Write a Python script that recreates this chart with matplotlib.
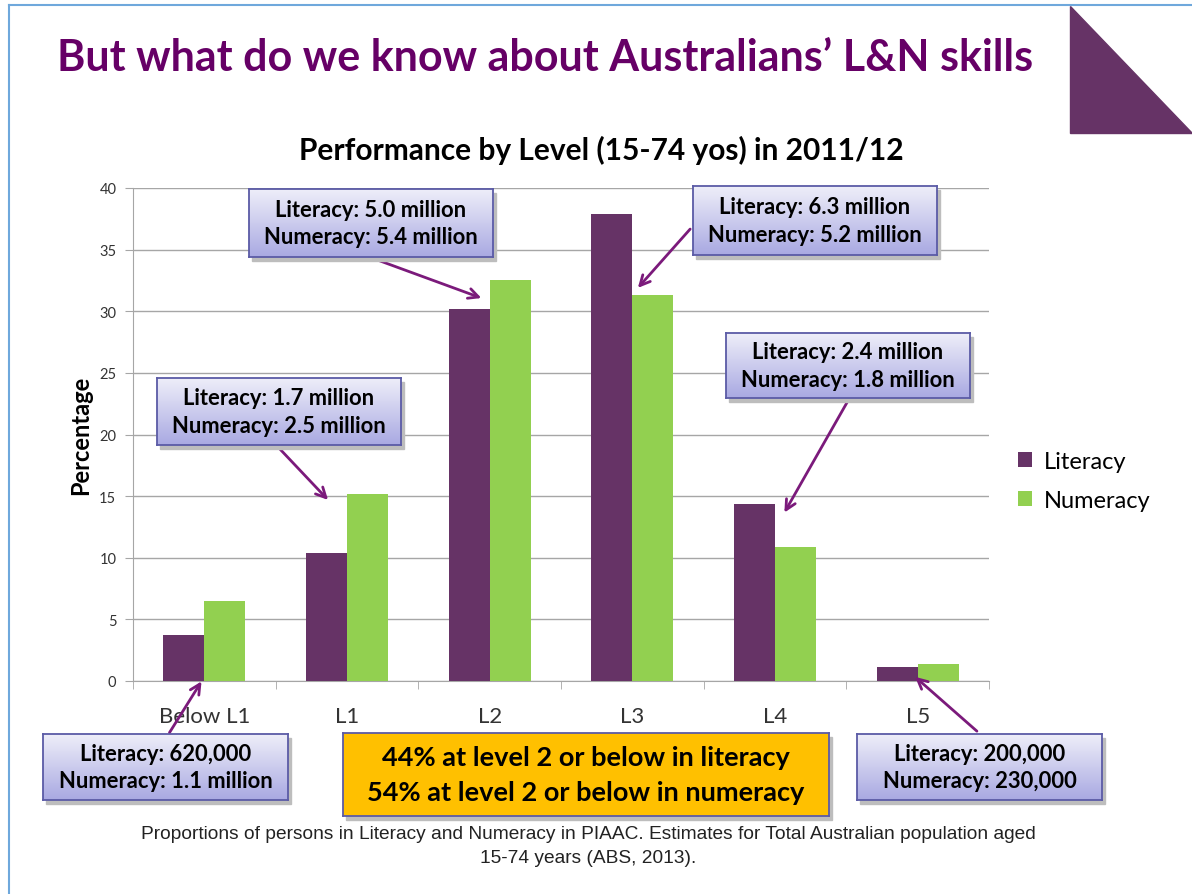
import numpy as np
import matplotlib
matplotlib.use('Agg')
import matplotlib.pyplot as plt
import matplotlib.patches as mpatches
from matplotlib.ticker import FixedLocator

# ── Data ─────────────────────────────────────────────────────────
levels   = ['Below L1', 'L1', 'L2', 'L3', 'L4', 'L5']
literacy = [3.7, 10.4, 30.2, 37.9, 14.4, 1.1]
numeracy = [6.5, 15.2, 32.5, 31.3, 10.9, 1.4]

notes = [
    ('Literacy: 620,000', 'Numeracy: 1.1 million'),
    ('Literacy: 1.7 million', 'Numeracy: 2.5 million'),
    ('Literacy: 5.0 million', 'Numeracy: 5.4 million'),
    ('Literacy: 6.3 million', 'Numeracy: 5.2 million'),
    ('Literacy: 2.4 million', 'Numeracy: 1.8 million'),
    ('Literacy: 200,000', 'Numeracy: 230,000'),
]
summary = ['44% at level 2 or below in literacy',
           '54% at level 2 or below in numeracy']

LIT_C   = '#663366'
NUM_C   = '#92D050'
TITLE_C = '#660066'
ARROW_C = '#7B1A7B'
FONT    = 'Lato'

W, H = 1192, 895
fig = plt.figure(figsize=(W / 100, H / 100), dpi=100)
fig.patch.set_facecolor('white')


def fx(x):
    return x / W


def fy(y):
    return 1 - y / H


# ── Slide frame + corner triangle ────────────────────────────────
fig.add_artist(plt.Line2D([fx(9), fx(9)], [fy(895), fy(6)], color='#6FA8DC', lw=1.5))
fig.add_artist(plt.Line2D([fx(9), fx(1192)], [fy(6), fy(6)], color='#6FA8DC', lw=1.5))
fig.add_artist(mpatches.Polygon([(fx(1070), fy(7)), (fx(1070), fy(134)), (fx(1192), fy(134))],
                                closed=True, color='#663366', transform=fig.transFigure))

fig.text(fx(545), fy(58), 'But what do we know about Australians\u2019 L&N skills',
         ha='center', va='center', fontsize=31, fontweight='bold', color=TITLE_C, family=FONT)

# ── Chart ────────────────────────────────────────────────────────
ax = fig.add_axes([fx(133), fy(682), (989 - 133) / W, (682 - 189) / H])
x = np.arange(len(levels))
bw = 0.287
ax.bar(x - bw / 2, literacy, bw, color=LIT_C, zorder=3, label='Literacy')
ax.bar(x + bw / 2, numeracy, bw, color=NUM_C, zorder=3, label='Numeracy')

ax.set_xlim(-0.5, len(levels) - 0.5)
ax.set_ylim(0, 40)
ax.set_yticks(range(0, 41, 5))
ax.yaxis.grid(True, color='#A6A6A6', lw=1)
ax.set_axisbelow(True)
for s in ['top', 'right']:
    ax.spines[s].set_visible(False)
for s in ['left', 'bottom']:
    ax.spines[s].set_color('#A6A6A6')
ax.set_xticks(x)
ax.set_xticklabels(levels, fontsize=16, color='#333333', family=FONT)
ax.xaxis.set_minor_locator(FixedLocator(np.arange(-0.5, len(levels), 1.0)))
ax.tick_params(axis='x', which='major', length=0, pad=18)
ax.tick_params(axis='x', which='minor', length=6, color='#A6A6A6')
ax.tick_params(axis='y', length=6, color='#A6A6A6', labelsize=10.5, labelcolor='#333333', pad=6)
for lab in ax.get_yticklabels():
    lab.set_family(FONT)
ax.set_ylabel('Percentage', fontsize=17, fontweight='bold', family=FONT, labelpad=5)

fig.text(fx(601), fy(150), 'Performance by Level (15-74 yos) in 2011/12',
         ha='center', va='center', fontsize=21.5, fontweight='bold', family=FONT)

leg = fig.legend(loc='upper left', bbox_to_anchor=(fx(997), fy(431)), frameon=False,
                 prop={'family': FONT, 'size': 17}, handlelength=0.6, handleheight=0.6,
                 handletextpad=0.5, labelspacing=0.75)

# ── Annotation boxes ─────────────────────────────────────────────
grad = np.linspace(0, 1, 64).reshape(-1, 1)
box_cmap = matplotlib.colors.LinearSegmentedColormap.from_list('bx', ['#EEEEF9', '#A9A9E2'])


def callout(x0, y0, x1, y1, lines, fill=None, size=15.8, spacing=1.38):
    # shadow
    fig.add_artist(mpatches.Rectangle((fx(x0 + 3), fy(y1 + 4)), (x1 - x0) / W, (y1 - y0) / H,
                                      transform=fig.transFigure, color='#BDBDBD', zorder=9))
    bax = fig.add_axes([fx(x0), fy(y1), (x1 - x0) / W, (y1 - y0) / H], zorder=10)
    if fill is None:
        bax.imshow(grad, aspect='auto', cmap=box_cmap, extent=(0, 1, 0, 1))
    else:
        bax.set_facecolor(fill)
    bax.set_xlim(0, 1)
    bax.set_ylim(0, 1)
    bax.set_xticks([])
    bax.set_yticks([])
    for sp in bax.spines.values():
        sp.set_color('#5B5BA6')
        sp.set_linewidth(1.3)
    bax.text(0.5, 0.5, '\n'.join(lines), ha='center', va='center', fontsize=size,
             fontweight='bold', family=FONT, linespacing=spacing)


def arrow(xa, ya, xb, yb):
    fig.add_artist(mpatches.FancyArrowPatch((fx(xa), fy(ya)), (fx(xb), fy(yb)),
                                            transform=fig.transFigure, arrowstyle='->',
                                            mutation_scale=18, color=ARROW_C, lw=2, zorder=8))


callout(43, 735, 288, 801, notes[0])
callout(157, 379, 401, 446, notes[1])
callout(249, 190, 493, 258, notes[2])
callout(693, 187, 937, 256, notes[3])
callout(726, 334, 970, 399, notes[4])
callout(857, 735, 1102, 801, notes[5])
callout(343, 734, 829, 817, summary, fill='#FFC000', size=19.5, spacing=1.55)

arrow(168, 736, 203, 680)
arrow(278, 448, 330, 503)
arrow(372, 259, 484, 300)
arrow(692, 228, 636, 291)
arrow(849, 400, 783, 516)
arrow(979, 734, 913, 676)

fig.text(fx(588), fy(835), 'Proportions of persons in Literacy and Numeracy in PIAAC. Estimates for Total '
         'Australian population aged', ha='center', va='center', fontsize=13.8,
         family='Liberation Sans', color='#222222')
fig.text(fx(588), fy(859), '15-74 years (ABS, 2013).', ha='center', va='center', fontsize=13.8,
         family='Liberation Sans', color='#222222')

fig.savefig('out.png', dpi=100)
